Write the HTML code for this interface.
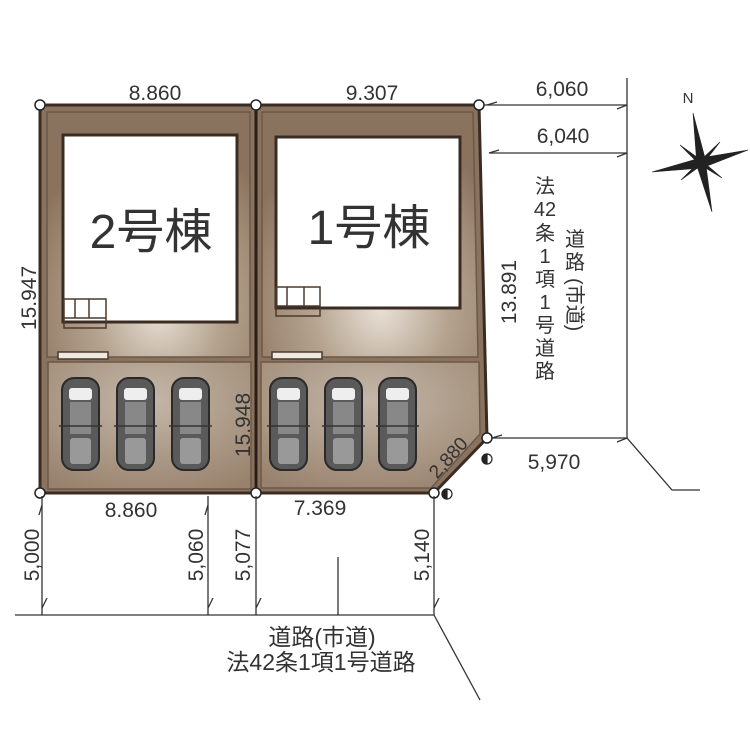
<!DOCTYPE html>
<html><head><meta charset="utf-8"><style>
html,body{margin:0;padding:0;background:#fff;}
svg{display:block;}
text{font-family:"Liberation Sans","Noto Sans CJK JP",sans-serif;fill:#333;}
</style></head><body>
<svg width="750" height="750" viewBox="0 0 750 750" xmlns="http://www.w3.org/2000/svg">
<defs>
<radialGradient id="g1" cx="0.55" cy="0.8" r="0.7">
<stop offset="0" stop-color="#e8e1d8"/><stop offset="0.45" stop-color="#b5a38f"/><stop offset="1" stop-color="#8a735e"/>
</radialGradient>
<radialGradient id="g2" cx="0.5" cy="0.3" r="0.8">
<stop offset="0" stop-color="#c4b7a8"/><stop offset="1" stop-color="#98826d"/>
</radialGradient>
<g id="car">
<rect x="0" y="0" width="37" height="92" rx="12" fill="#5a5a5a" stroke="#2a2a2a" stroke-width="2"/>
<rect x="7" y="10" width="23" height="12" rx="3" fill="#eee"/>
<rect x="8" y="24" width="21" height="32" fill="#888"/>
<rect x="8" y="60" width="21" height="26" rx="3" fill="#999"/>
<line x1="-3" y1="48" x2="40" y2="48" stroke="#333" stroke-width="1.5"/>
</g>
</defs>
<polygon points="40,105 479,105 487,438 434,493 40,493" fill="#8a735e" stroke="#3a2c22" stroke-width="3"/>
<rect x="47" y="112" width="203" height="245" fill="url(#g1)" stroke="#6c5848" stroke-width="1.5"/>
<polygon points="262,112 473,112 478,357 262,357" fill="url(#g1)" stroke="#6c5848" stroke-width="1.5"/>
<rect x="48" y="362" width="203" height="127" fill="url(#g2)" stroke="#6c5848" stroke-width="1.5"/>
<polygon points="261,362 479,362 480,434 431,488 261,488" fill="url(#g2)" stroke="#6c5848" stroke-width="1.5"/>
<line x1="256" y1="105" x2="256" y2="493" stroke="#2a1e16" stroke-width="3"/>
<rect x="63" y="135" width="174" height="187" fill="#fff" stroke="#3a2c22" stroke-width="3"/>
<rect x="276" y="137" width="184" height="171" fill="#fff" stroke="#3a2c22" stroke-width="3"/>
<g fill="none" stroke="#4a3a2e" stroke-width="1.5">
<rect x="64" y="299" width="42" height="29"/><line x1="64" y1="318" x2="106" y2="318"/><line x1="75" y1="299" x2="75" y2="318"/><line x1="89" y1="299" x2="89" y2="318"/>
<rect x="276" y="287" width="44" height="29"/><line x1="276" y1="306" x2="320" y2="306"/><line x1="287" y1="287" x2="287" y2="306"/><line x1="304" y1="287" x2="304" y2="306"/>
<rect x="58" y="352" width="50" height="7" fill="#efe9e2"/>
<rect x="272" y="352" width="50" height="7" fill="#efe9e2"/>
</g>
<text x="151" y="248" font-size="48" text-anchor="middle" fill="#222">2号棟</text>
<text x="369" y="244" font-size="48" text-anchor="middle" fill="#222">1号棟</text>
<use href="#car" x="62" y="378"/><use href="#car" x="117" y="378"/><use href="#car" x="172" y="378"/>
<use href="#car" x="270" y="378"/><use href="#car" x="325" y="378"/><use href="#car" x="379" y="378"/>
<g fill="#fff" stroke="#222" stroke-width="1.5">
<circle cx="40" cy="105" r="5"/><circle cx="256" cy="105" r="5"/><circle cx="479" cy="105" r="5"/>
<circle cx="40" cy="493" r="5"/><circle cx="256" cy="493" r="5"/><circle cx="434" cy="493" r="5"/><circle cx="487" cy="438" r="5"/>
</g>
<g stroke="#222" stroke-width="1.2"><circle cx="487" cy="459" r="5" fill="#fff"/><path d="M487,454 A5,5 0 0 0 487,464Z" fill="#222"/>
<circle cx="447" cy="494" r="5" fill="#fff"/><path d="M447,489 A5,5 0 0 0 447,499Z" fill="#222"/></g>
<g stroke="#333" stroke-width="1.3" fill="none">
<line x1="15" y1="615" x2="434" y2="615"/><polyline points="434,615 480,700"/>
<line x1="42" y1="496" x2="42" y2="615"/><line x1="208" y1="496" x2="208" y2="615"/><line x1="256" y1="496" x2="256" y2="615"/><line x1="434" y1="496" x2="434" y2="615"/>
<line x1="338" y1="557" x2="338" y2="615"/>
<line x1="484" y1="105" x2="627" y2="105"/><line x1="489" y1="153" x2="627" y2="153"/><line x1="492" y1="438" x2="627" y2="438"/>
<polyline points="627,78 627,438 672,490 700,490"/>
<path d="M42,608 l5,-10 M208,608 l5,-10 M256,608 l5,-10 M434,608 l5,-10 M42,505 l-3,10 M208,505 l-3,10 M627,105 l-10,4 M627,153 l-10,4 M627,438 l-10,4 M487,105 l10,-3 M489,153 l10,-3 M492,438 l10,-3"/>
</g>
<g font-size="21">
<text x="155" y="100" text-anchor="middle">8.860</text>
<text x="372" y="100" text-anchor="middle">9.307</text>
<text x="562" y="96" text-anchor="middle">6,060</text>
<text x="563" y="143" text-anchor="middle">6,040</text>
<text x="554" y="469" text-anchor="middle">5,970</text>
<text x="131" y="517" text-anchor="middle">8.860</text>
<text x="320" y="515" text-anchor="middle">7.369</text>
<text transform="translate(36,298) rotate(-90)" text-anchor="middle">15.947</text>
<text transform="translate(250,425) rotate(-90)" text-anchor="middle">15.948</text>
<text transform="translate(516,292) rotate(-90)" text-anchor="middle">13.891</text>
<text transform="translate(453,462) rotate(-48)" text-anchor="middle" font-size="19">2,880</text>
<text transform="translate(39,555) rotate(-90)" text-anchor="middle">5,000</text>
<text transform="translate(203,555) rotate(-90)" text-anchor="middle">5,060</text>
<text transform="translate(250,555) rotate(-90)" text-anchor="middle">5,077</text>
<text transform="translate(429,555) rotate(-90)" text-anchor="middle">5,140</text>
</g>
<g font-size="20" text-anchor="middle">
<text x="545" y="193">法</text><text x="545" y="216">42</text><text x="545" y="240">条</text><text x="545" y="263">1</text><text x="545" y="286">項</text><text x="545" y="309">1</text><text x="545" y="332">号</text><text x="545" y="355">道</text><text x="545" y="378">路</text>
<text x="575" y="246">道</text><text x="575" y="269">路</text><text transform="translate(568,278) rotate(90)" text-anchor="start">(市道)</text>
</g>
<g font-size="23" text-anchor="middle">
<text x="322" y="645">道路(市道)</text>
<text x="321" y="670">法42条1項1号道路</text>
</g>
<text x="688" y="103" font-size="15" font-family="Liberation Serif" text-anchor="middle" fill="#333">N</text>
<g fill="#222" stroke="#222" stroke-width="0.6">
<polygon points="693,113 705,158 712,212 697,166"/>
<polygon points="652,172 700,158 748,150 702,168"/>
<polygon points="680,145 701,160 722,178 699,164"/>
<polygon points="720,142 701,160 681,180 703,164"/>
</g>
</svg>
</body></html>
